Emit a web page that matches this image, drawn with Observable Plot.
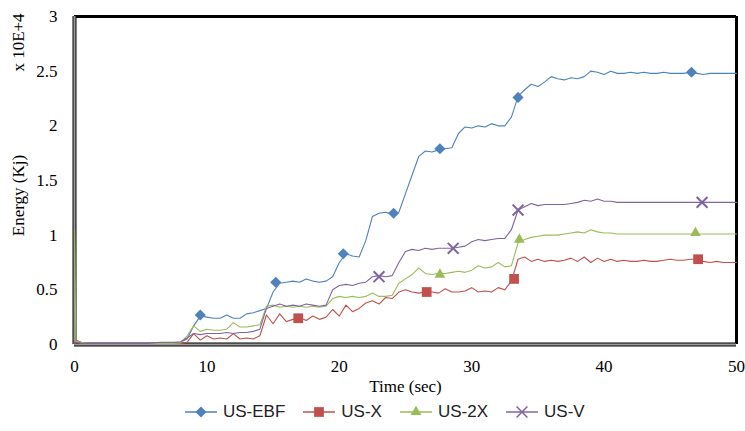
<!DOCTYPE html>
<html>
<head>
<meta charset="utf-8">
<script src="https://cdn.jsdelivr.net/npm/d3@7"></script>
<script src="https://cdn.jsdelivr.net/npm/@observablehq/plot@0.6"></script>
<style>
  body { margin: 0; background: #fff; }
  #chart { width: 745px; height: 400px; }
  #chart svg text { font-family: "Liberation Serif", "Times New Roman", serif; }
  #legend { display: flex; align-items: center; height: 24px; padding-left: 185px;
            font-family: "Liberation Sans", Arial, sans-serif; font-size: 17px; color: #222; }
  .item { display: flex; align-items: center; margin-right: 18px; }
  .item svg { margin-right: 6px; }
</style>
</head>
<body>
<div id="chart"></div>
<div id="legend"></div>
<script>
// Time (sec)
const time = [0, 0.1,
  0.5, 1, 1.5, 2, 2.5, 3, 3.5, 4, 4.5, 5,
  5.5, 6, 6.5, 7, 7.5, 8, 8.5, 9, 9.5, 10,
  10.5, 11, 11.5, 12, 12.5, 13, 13.5, 14, 14.5, 15,
  15.5, 16, 16.5, 17, 17.5, 18, 18.5, 19, 19.5, 20,
  20.5, 21, 21.5, 22, 22.5, 23, 23.5, 24, 24.5, 25,
  25.5, 26, 26.5, 27, 27.5, 28, 28.5, 29, 29.5, 30,
  30.5, 31, 31.5, 32, 32.5, 33, 33.5, 34, 34.5, 35,
  35.5, 36, 36.5, 37, 37.5, 38, 38.5, 39, 39.5, 40,
  40.5, 41, 41.5, 42, 42.5, 43, 43.5, 44, 44.5, 45,
  45.5, 46, 46.5, 47, 47.5, 48, 48.5, 49, 49.5, 50];

// Energy (x 10E+4 Kj)
const usEBF = [0.01, 0.03,
  0.02, 0.01, 0.01, 0.01, 0.01, 0.01, 0.01, 0.01, 0.01, 0.01,
  0.01, 0.01, 0.01, 0.015, 0.015, 0.02, 0.05, 0.17, 0.26, 0.25,
  0.24, 0.24, 0.27, 0.24, 0.24, 0.28, 0.29, 0.31, 0.33, 0.48,
  0.56, 0.57, 0.58, 0.57, 0.6, 0.58, 0.57, 0.58, 0.62, 0.75,
  0.83, 0.81, 0.8, 0.95, 1.17, 1.2, 1.21, 1.19, 1.21, 1.38,
  1.55, 1.72, 1.77, 1.76, 1.78, 1.79, 1.8, 1.93, 1.99, 1.98,
  2.0, 1.99, 2.02, 2.0, 2.0, 2.08, 2.27, 2.33, 2.38, 2.36,
  2.4, 2.45, 2.43, 2.42, 2.44, 2.43, 2.45, 2.5, 2.49, 2.47,
  2.5, 2.48, 2.48, 2.49, 2.48, 2.49, 2.48, 2.48, 2.49, 2.48,
  2.48, 2.48, 2.49, 2.48, 2.47, 2.48, 2.48, 2.48, 2.48, 2.48];

const usX = [0.01, 0.04,
  0.02, 0.01, 0.01, 0.01, 0.01, 0.01, 0.01, 0.01, 0.01, 0.01,
  0.01, 0.01, 0.01, 0.01, 0.01, 0.01, 0.02, 0.1, 0.04, 0.08,
  0.05, 0.06, 0.05, 0.1, 0.05, 0.06, 0.05, 0.08, 0.27, 0.19,
  0.28, 0.21, 0.23, 0.25, 0.22, 0.26, 0.23, 0.25, 0.32, 0.26,
  0.36, 0.3, 0.33, 0.38, 0.4, 0.37, 0.43, 0.42, 0.48, 0.5,
  0.48, 0.47, 0.48, 0.48, 0.47, 0.51, 0.48, 0.48, 0.49, 0.52,
  0.48, 0.49, 0.48, 0.52, 0.5, 0.58, 0.78, 0.8, 0.76, 0.78,
  0.76, 0.77, 0.76, 0.77, 0.79, 0.76, 0.8, 0.75, 0.79, 0.76,
  0.78, 0.76, 0.77, 0.76, 0.76, 0.77, 0.76, 0.76, 0.77, 0.78,
  0.77, 0.77, 0.78, 0.78, 0.76, 0.75, 0.76, 0.75, 0.75, 0.75];

const us2X = [1.05, 0.03,
  0.02, 0.01, 0.01, 0.01, 0.01, 0.01, 0.01, 0.01, 0.01, 0.01,
  0.01, 0.01, 0.01, 0.01, 0.01, 0.015, 0.08, 0.17, 0.12, 0.14,
  0.13, 0.13, 0.14, 0.2, 0.16, 0.16, 0.17, 0.18, 0.35, 0.36,
  0.34, 0.35, 0.34, 0.35, 0.34, 0.35, 0.34, 0.35, 0.42, 0.44,
  0.43, 0.44, 0.43, 0.44, 0.47, 0.44, 0.44, 0.45, 0.56, 0.6,
  0.64, 0.7, 0.65, 0.64, 0.65, 0.65, 0.66, 0.67, 0.66, 0.68,
  0.72, 0.7, 0.71, 0.75, 0.71, 0.72, 0.93, 0.96, 0.98, 0.99,
  1.0, 1.0, 1.0, 1.01, 1.02, 1.03, 1.02, 1.05, 1.03, 1.02,
  1.02, 1.01, 1.01, 1.01, 1.01, 1.01, 1.01, 1.01, 1.01, 1.01,
  1.01, 1.01, 1.01, 1.01, 1.01, 1.01, 1.01, 1.01, 1.01, 1.01];

const usV = [0.01, 0.02,
  0.01, 0.01, 0.01, 0.01, 0.01, 0.01, 0.01, 0.01, 0.01, 0.01,
  0.01, 0.015, 0.02, 0.02, 0.02, 0.025, 0.06, 0.1, 0.09, 0.1,
  0.1, 0.1, 0.11, 0.1, 0.11, 0.11, 0.12, 0.14, 0.33, 0.35,
  0.37, 0.35, 0.36, 0.35, 0.37, 0.36, 0.35, 0.36, 0.5, 0.54,
  0.55, 0.54, 0.56, 0.57, 0.62, 0.63, 0.62, 0.63, 0.75, 0.85,
  0.87, 0.86, 0.88, 0.87, 0.88, 0.88, 0.88, 0.89, 0.9, 0.94,
  0.96, 0.95, 0.96, 0.97, 0.97, 1.05, 1.23, 1.26, 1.29, 1.27,
  1.28, 1.28, 1.28, 1.28, 1.29, 1.3, 1.32, 1.31, 1.33, 1.31,
  1.31, 1.3, 1.3, 1.3, 1.3, 1.3, 1.3, 1.3, 1.3, 1.3,
  1.3, 1.3, 1.3, 1.3, 1.3, 1.3, 1.3, 1.3, 1.3, 1.3];

// Marker positions (time, energy)
const ebfMarkT = [9.5, 15.2, 20.3, 24.1, 27.6, 33.5, 46.6];
const ebfMarkV = [0.27, 0.57, 0.83, 1.2, 1.79, 2.26, 2.49];
const xMarkT = [16.9, 26.6, 33.2, 47.1];
const xMarkV = [0.24, 0.48, 0.6, 0.78];
const x2MarkT = [27.6, 33.6, 46.9];
const x2MarkV = [0.64, 0.96, 1.02];
const vMarkT = [23.0, 28.6, 33.5, 47.4];
const vMarkV = [0.62, 0.88, 1.23, 1.3];

const seriesNames = ["US-EBF", "US-X", "US-2X", "US-V"];
const seriesColors = ["#4F81BD", "#C0504D", "#9BBB59", "#8064A2"];
const xTicks = [0, 10, 20, 30, 40, 50];
const yTicks = [0, 0.5, 1, 1.5, 2, 2.5, 3];

const serif = '"Liberation Serif", "Times New Roman", serif';
const values = [usEBF, usX, us2X, usV];
const markT = [ebfMarkT, xMarkT, x2MarkT, vMarkT];
const markV = [ebfMarkV, xMarkV, x2MarkV, vMarkV];
const symbols = ["diamond2", "square", "triangle", "times"];
const symR = [5, 5.5, 4, 5];

const lineMarks = [];
const dotMarks = [];
seriesNames.forEach((name, i) => {
  const data = time.map((t, j) => ({t, v: values[i][j]}));
  lineMarks.push(Plot.line(data, {x: "t", y: "v", stroke: seriesColors[i], strokeWidth: 1.1}));
  const md = markT[i].map((t, j) => ({t, v: markV[i][j]}));
  if (symbols[i] === "times") {
    dotMarks.push(Plot.dot(md, {x: "t", y: "v", symbol: "times", stroke: seriesColors[i], strokeWidth: 2, r: symR[i]}));
  } else {
    dotMarks.push(Plot.dot(md, {x: "t", y: "v", symbol: symbols[i], fill: seriesColors[i], r: symR[i]}));
  }
});

const chart = Plot.plot({
  width: 745,
  height: 400,
  marginTop: 16,
  marginBottom: 56,
  marginLeft: 74,
  marginRight: 9,
  style: {fontFamily: serif, fontSize: "17px", color: "#000", background: "#fff"},
  x: {domain: [0, 50]},
  y: {domain: [0, 3]},
  marks: [
    Plot.axisX({ticks: xTicks, tickSize: 0, tickPadding: 15, label: null, fontSize: 17, fontFamily: serif}),
    Plot.axisY({ticks: yTicks, tickSize: 0, tickPadding: 17, label: null, fontSize: 17, fontFamily: serif, tickFormat: d => String(d)}),
    Plot.ruleY([3], {stroke: "#000", strokeWidth: 3}),
    Plot.ruleX([50], {stroke: "#000", strokeWidth: 3}),
    Plot.ruleX([0], {stroke: "#000", strokeWidth: 4}),
    Plot.ruleX([0], {stroke: "#9a9a9a", strokeWidth: 2}),
    Plot.ruleY([0], {stroke: "#000", strokeWidth: 4}),
    Plot.ruleY([0], {stroke: "#9a9a9a", strokeWidth: 2}),
    ...lineMarks,
    ...dotMarks,
    Plot.text(["Time (sec)"], {text: d => d, frameAnchor: "bottom", dy: 42, fontSize: 17, fontFamily: serif, textAnchor: "middle", lineAnchor: "middle"}),
    Plot.text(["Energy (Kj)"], {text: d => d, frameAnchor: "left", dx: -56, dy: 15, rotate: -90, fontSize: 17, fontFamily: serif, textAnchor: "middle", lineAnchor: "middle"}),
    Plot.text(["x 10E+4"], {text: d => d, frameAnchor: "left", dx: -56, dy: -138, rotate: -90, fontSize: 17, fontFamily: serif, textAnchor: "middle", lineAnchor: "middle"})
  ]
});
document.getElementById("chart").appendChild(chart);

// Legend
const legend = document.getElementById("legend");
const symMap = {diamond2: d3.symbolDiamond2, square: d3.symbolSquare, triangle: d3.symbolTriangle, times: d3.symbolTimes};
seriesNames.forEach((name, i) => {
  const item = document.createElement("div");
  item.className = "item";
  const ns = "http://www.w3.org/2000/svg";
  const svg = document.createElementNS(ns, "svg");
  svg.setAttribute("width", 32); svg.setAttribute("height", 16);
  const ln = document.createElementNS(ns, "line");
  ln.setAttribute("x1", 0); ln.setAttribute("x2", 32); ln.setAttribute("y1", 8); ln.setAttribute("y2", 8);
  ln.setAttribute("stroke", seriesColors[i]); ln.setAttribute("stroke-width", 1.5);
  svg.appendChild(ln);
  const p = document.createElementNS(ns, "path");
  p.setAttribute("d", d3.symbol(symMap[symbols[i]], Math.PI * symR[i] * symR[i])());
  p.setAttribute("transform", "translate(16,8)");
  if (symbols[i] === "times") { p.setAttribute("fill", "none"); p.setAttribute("stroke", seriesColors[i]); p.setAttribute("stroke-width", 1.5); }
  else p.setAttribute("fill", seriesColors[i]);
  svg.appendChild(p);
  item.appendChild(svg);
  const span = document.createElement("span");
  span.textContent = name;
  item.appendChild(span);
  legend.appendChild(item);
});
</script>
</body>
</html>
